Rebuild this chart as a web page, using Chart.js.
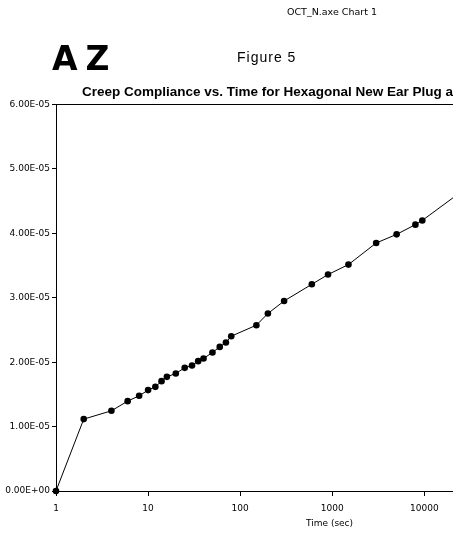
<!DOCTYPE html>
<html>
<head>
<meta charset="utf-8">
<script src="https://cdn.jsdelivr.net/npm/chart.js@4/dist/chart.umd.min.js"></script>
<style>
    html, body { margin: 0; padding: 0; background: #fff; overflow: hidden; }
    #wrap { position: relative; width: 453px; height: 541px; overflow: hidden; }
    #chart { position: absolute; left: 0; top: 0; }
    .txt { position: absolute; white-space: nowrap; line-height: 1; color: #000; }
    #file { left: 287px; top: 6px; font: 9.5px "DejaVu Sans", sans-serif; }
    #az { left: 52px; top: 39px; font: bold 33px "DejaVu Sans", sans-serif; letter-spacing: 8px; }
    #fig { left: 237px; top: 49px; font: 14px "Liberation Sans", Arial, sans-serif; letter-spacing: 1px; }
    #title { left: 82px; top: 84px; font: bold 13.5px "Liberation Sans", Arial, sans-serif; }
    #xtitle { left: 306px; top: 518px; font: 9px "DejaVu Sans", sans-serif; }
</style>
</head>
<body>
<div id="wrap">
    <canvas id="chart" width="458" height="541"></canvas>
    <div class="txt" id="file">OCT_N.axe Chart 1</div>
    <div class="txt" id="az">AZ</div>
    <div class="txt" id="fig">Figure 5</div>
    <div class="txt" id="title">Creep Compliance vs. Time for Hexagonal New Ear Plug a</div>
    <div class="txt" id="xtitle">Time (sec)</div>
</div>
<script>
// Creep compliance readings (time in seconds, compliance in 1/Pa)
const timeSec = [1, 2, 4, 6, 8, 10, 12, 14, 16, 20, 25, 30, 35, 40, 50, 60, 70, 80,
    150, 200, 300, 600, 900, 1500, 3000, 5000, 8000, 9500, 21000];
const compliance = [0, 1.116e-5, 1.245e-5, 1.395e-5, 1.478e-5, 1.566e-5, 1.617e-5, 1.705e-5,
    1.772e-5, 1.825e-5, 1.912e-5, 1.949e-5, 2.016e-5, 2.057e-5, 2.150e-5, 2.237e-5, 2.305e-5,
    2.403e-5, 2.574e-5, 2.755e-5, 2.950e-5, 3.209e-5, 3.360e-5, 3.515e-5, 3.850e-5, 3.984e-5,
    4.135e-5, 4.200e-5, 4.563e-5];

// Axis ticks
const xTicks = [1, 10, 100, 1000, 10000];
const yTicks = [0, 1e-5, 2e-5, 3e-5, 4e-5, 5e-5, 6e-5];

// Format like "6.00E-05"
function sciLabel(v) {
    const [m, e] = v.toExponential(2).toUpperCase().split('E');
    const n = parseInt(e);
    const sign = n < 0 ? '-' : '+';
    return m + 'E' + sign + String(Math.abs(n)).padStart(2, '0');
}

const points = timeSec.map((t, i) => ({ x: t, y: compliance[i] }));
const tickFont = { family: 'DejaVu Sans', size: 9 };

new Chart(document.getElementById('chart'), {
    type: 'line',
    data: {
        datasets: [{
            data: points,
            borderColor: '#000',
            borderWidth: 1,
            backgroundColor: '#000',
            pointBackgroundColor: '#000',
            pointBorderWidth: 0,
            pointRadius: ctx => (ctx.dataIndex === timeSec.length - 1 ? 0 : 3.3),
            tension: 0,
            clip: false
        }]
    },
    options: {
        responsive: false,
        animation: false,
        layout: { padding: { top: 104.5, right: 0, left: 0, bottom: 0 } },
        plugins: {
            legend: { display: false },
            title: { display: false },
            tooltip: { enabled: false }
        },
        scales: {
            x: {
                type: 'logarithmic',
                min: 1,
                max: 21000,
                afterBuildTicks: scale => { scale.ticks = xTicks.map(v => ({ value: v })); },
                afterFit: scale => { scale.height = 50; },
                border: { color: '#000', width: 1 },
                grid: { drawOnChartArea: false, color: '#000', tickLength: 5 },
                ticks: {
                    color: '#000',
                    font: tickFont,
                    padding: 7,
                    maxRotation: 0,
                    autoSkip: false,
                    callback: v => String(v)
                }
            },
            y: {
                type: 'linear',
                min: 0,
                max: 6e-5,
                afterBuildTicks: scale => { scale.ticks = yTicks.map(v => ({ value: v })); },
                afterFit: scale => { scale.width = 56; },
                border: { color: '#000', width: 1 },
                grid: {
                    color: ctx => (ctx.index === yTicks.length - 1 ? '#000' : 'rgba(0,0,0,0)'),
                    tickColor: '#000',
                    tickLength: 4
                },
                ticks: {
                    color: '#000',
                    font: tickFont,
                    padding: 2,
                    callback: v => sciLabel(v)
                }
            }
        }
    }
});
</script>
</body>
</html>
